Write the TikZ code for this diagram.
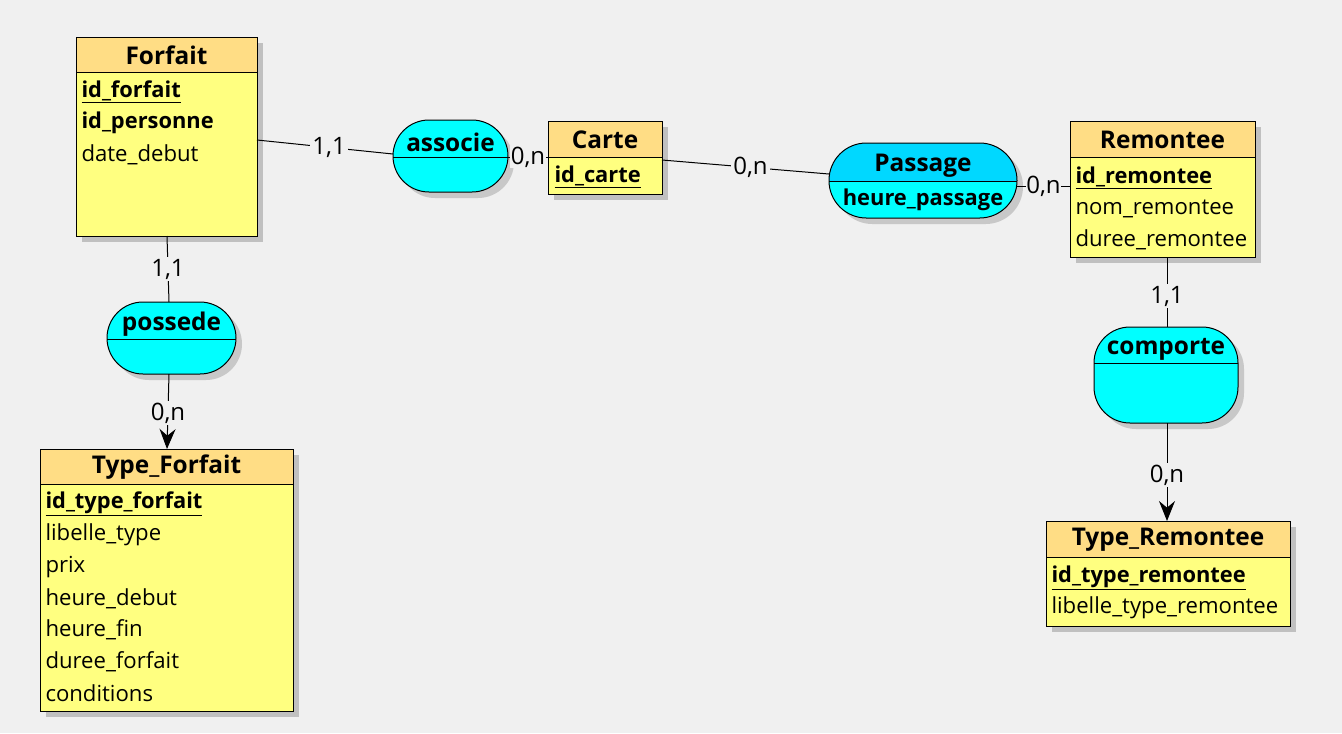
\documentclass[tikz,border=0pt]{standalone}
\usepackage{fontspec}
\setmainfont{Open Sans}
\usetikzlibrary{arrows.meta,fit}
\definecolor{bg}{HTML}{F0F0F0}
\definecolor{hdr}{HTML}{FFDD85}
\definecolor{bodyc}{HTML}{FFFF80}
\definecolor{cy}{HTML}{00FFFF}
\definecolor{cyd}{HTML}{00D8FF}
\definecolor{shg}{HTML}{C0C0C0}
\definecolor{shl}{HTML}{C8C8C8}

% entity: name, x1, y1, x2, y2, yheader, title
\newcommand\entity[7]{%
  \fill[shg] ({#2+6},{#3+6}) rectangle ({#4+6},{#5+6});
  \fill[bodyc] (#2,#3) rectangle (#4,#5);
  \fill[hdr] (#2,#3) rectangle (#4,#6);
  \draw (#2,#6) -- (#4,#6);
  \node[draw, inner sep=0pt, fit={(#2,#3) (#4,#5)}] (#1) {};
  \node[hdrtext] (#1-t) at ({(#2+#4)/2},{(#3+#6)/2+1}) {#7};
}
% association: name, x1, y1, x2, y2, ydiv, radius(pt), topcolor, title
\newcommand\assoc[9]{%
  \fill[shl, rounded corners=#7] ({#2+6},{#3+6}) rectangle ({#4+6},{#5+6});
  \begin{scope}
    \clip[rounded corners=#7] (#2,#3) rectangle (#4,#5);
    \fill[#8] (#2,#3) rectangle (#4,#6);
    \fill[cy] (#2,#6) rectangle (#4,#5);
    \draw (#2,#6) -- (#4,#6);
  \end{scope}
  \draw[rounded corners=#7] (#2,#3) rectangle (#4,#5);
  \node[inner sep=0pt, fit={(#2,#3) (#4,#5)}] (#1) {};
  \node[hdrtext] (#1-t) at ({(#2+#4)/2},{(#3+#6)/2+4}) {#9};
}

\begin{document}
\begin{tikzpicture}[x=0.75pt,y=-0.75pt, line width=0.75pt,
  hdrtext/.style={font=\fontsize{18.3}{22}\selectfont\bfseries, inner sep=0pt},
  rowtext/.style={font=\fontsize{16.6}{20}\selectfont, anchor=west, inner sep=0pt, yshift=-1.5pt},
  keytext/.style={font=\fontsize{16.4}{20}\selectfont\bfseries, anchor=west, inner sep=0pt, yshift=-1.5pt},
  card/.style={fill=bg, inner sep=1.5pt, font=\fontsize{18}{20}\selectfont},
  conn/.style={draw, line width=0.75pt},
  arr/.style={-{Stealth[length=15pt,width=12pt,inset=5pt]}}
]
\fill[bg] (0,0) rectangle (1342,733);
\useasboundingbox (0,0) rectangle (1342,733);

% ---------- entities ----------
\entity{forfait}{76}{37}{257}{236}{72}{Forfait}
\node[keytext] (forfait-r1) at (81,90) {\underline{id\_forfait}};
\node[keytext] (forfait-r2) at (81,121) {id\_personne};
\node[rowtext] (forfait-r3) at (81,153) {date\_debut};

\entity{carte}{548}{121}{662}{194}{157}{Carte}
\node[keytext] (carte-r1) at (554,175) {\underline{id\_carte}};

\entity{remontee}{1070}{121}{1255}{257}{157}{Remontee}
\node[keytext] (remontee-r1) at (1075,176) {\underline{id\_remontee}};
\node[rowtext] (remontee-r2) at (1075,207) {nom\_remontee};
\node[rowtext] (remontee-r3) at (1075,238) {duree\_remontee};

\entity{typeforfait}{40}{449}{293}{711}{484}{Type\_Forfait}
\node[keytext] (typeforfait-r1) at (45,502) {\underline{id\_type\_forfait}};
\node[rowtext] (typeforfait-r2) at (45,533) {libelle\_type};
\node[rowtext] (typeforfait-r3) at (45,565) {prix};
\node[rowtext] (typeforfait-r4) at (45,597) {heure\_debut};
\node[rowtext] (typeforfait-r5) at (45,628) {heure\_fin};
\node[rowtext] (typeforfait-r6) at (45,660) {duree\_forfait};
\node[rowtext] (typeforfait-r7) at (45,691) {conditions};

\entity{typeremontee}{1046}{521}{1290}{626}{557}{Type\_Remontee}
\node[keytext] (typeremontee-r1) at (1051,576) {\underline{id\_type\_remontee}};
\node[rowtext] (typeremontee-r2) at (1051,606) {libelle\_type\_remontee};

% ---------- associations ----------
\assoc{associe}{393}{120}{508}{192}{157}{27pt}{cy}{associe}
\assoc{passage}{829}{143}{1017}{218}{181}{28pt}{cyd}{Passage}
\node[keytext, anchor=center] (passage-r1) at (923,198) {heure\_passage};
\assoc{possede}{107}{302}{236}{374}{339}{27pt}{cy}{possede}
\assoc{comporte}{1094}{327}{1238}{423}{363}{27pt}{cy}{comporte}

% ---------- connectors ----------
\coordinate (c1a) at (257,140);
\coordinate (c1b) at (393,154);
\draw[conn] (c1a) -- node[card, pos=0.53] (l1) {1,1} (c1b);
\coordinate (c2a) at (508,157);
\coordinate (c2b) at (548,157);
\draw[conn] (c2a) -- node[card, inner sep=0.5pt] (l2) {0,n} (c2b);
\coordinate (c3a) at (662,160);
\coordinate (c3b) at (829,174);
\draw[conn] (c3a) -- node[card, pos=0.53] (l3) {0,n} (c3b);
\coordinate (c4a) at (1017,186);
\coordinate (c4b) at (1070,186);
\draw[conn] (c4a) -- node[card, inner sep=0.5pt] (l4) {0,n} (c4b);
\coordinate (c5a) at (167,236);
\coordinate (c5b) at (169,302);
\draw[conn] (c5a) -- node[card] (l5) {1,1} (c5b);
\coordinate (c6a) at (169,374);
\coordinate (c6b) at (167,449);
\draw[conn, arr] (c6a) -- node[card, pos=0.52] (l6) {0,n} (c6b);
\coordinate (c7a) at (1167,257);
\coordinate (c7b) at (1167,327);
\draw[conn] (c7a) -- node[card, pos=0.56] (l7) {1,1} (c7b);
\coordinate (c8a) at (1167,423);
\coordinate (c8b) at (1167,521);
\draw[conn, arr] (c8a) -- node[card, pos=0.53] (l8) {0,n} (c8b);
\end{tikzpicture}
\end{document}
